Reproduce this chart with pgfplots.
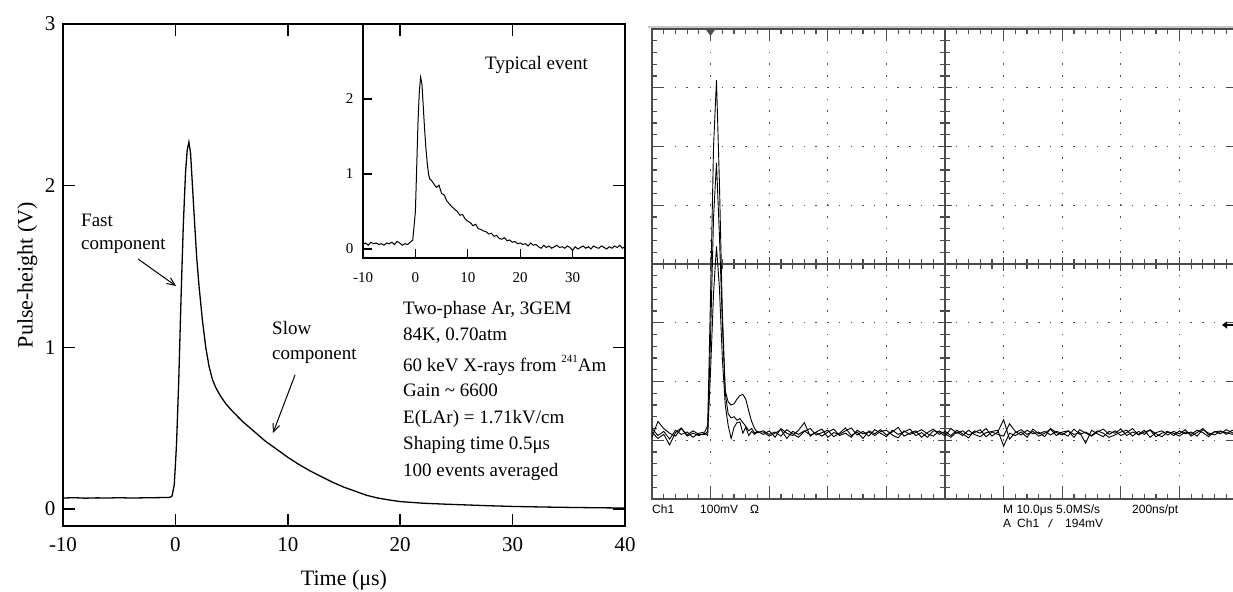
\documentclass[border=0pt]{standalone}
\usepackage{fontspec}
\setmainfont{Liberation Serif}
\newfontfamily\scopefont{Liberation Sans}
\usepackage{pgfplots}
\pgfplotsset{compat=1.18}
\usepackage{pgfplotstable}
\usetikzlibrary{arrows.meta}
\definecolor{scopegray}{gray}{0.3}

\pgfplotstableread{
t v
-10 0.068
-9 0.070
-8 0.067
-7 0.069
-6 0.068
-5 0.070
-4 0.068
-3 0.069
-2 0.070
-1 0.071
-0.5 0.072
-0.3 0.08
-0.1 0.15
0.1 0.40
0.3 0.80
0.5 1.30
0.7 1.75
0.9 2.08
1.05 2.22
1.2 2.27
1.35 2.20
1.5 2.02
1.7 1.78
1.9 1.55
2.1 1.38
2.4 1.17
2.7 1.00
3.0 0.88
3.3 0.80
3.6 0.75
4.0 0.70
4.5 0.65
5 0.61
6 0.54
7 0.48
8 0.42
9 0.37
10 0.32
11 0.275
12 0.235
13 0.20
14 0.165
15 0.135
16 0.11
17 0.085
18 0.068
19 0.056
20 0.046
22 0.036
24 0.030
26 0.025
28 0.020
30 0.016
33 0.012
36 0.009
40 0.006
}\mainavg

\pgfplotstableread{
t v
-10 0.06
-9.5 0.08
-9 0.05
-8.5 0.09
-8 0.07
-7.5 0.08
-7 0.06
-6.5 0.07
-6 0.05
-5.5 0.08
-5 0.07
-4.5 0.09
-4 0.06
-3.5 0.10
-3 0.08
-2.5 0.05
-2 0.07
-1.5 0.06
-1 0.09
-0.5 0.12
0 0.5
0.25 1.1
0.5 1.7
0.75 2.1
1.0 2.29
1.25 2.2
1.5 1.9
1.75 1.6
2.0 1.35
2.25 1.15
2.5 1.0
2.75 0.93
3 0.92
3.5 0.87
4 0.82
4.5 0.85
5 0.74
5.5 0.72
6 0.64
6.5 0.60
7 0.56
7.5 0.53
8 0.50
8.5 0.45
9 0.46
9.5 0.40
10 0.37
10.5 0.35
11 0.31
11.5 0.33
12 0.27
12.5 0.26
13 0.24
13.5 0.23
14 0.20
14.5 0.21
15 0.17
15.5 0.18
16 0.14
16.5 0.13
17 0.15
17.5 0.11
18 0.12
18.5 0.09
19 0.10
19.5 0.07
20 0.08
20.5 0.06
21 0.07
21.5 0.04
22 0.08
22.5 0.05
23 0.06
23.5 0.03
24 0.01
24.5 0.05
25 0.02
25.5 0.04
26 0.01
26.5 0.03
27 0.05
27.5 0.02
28 0.03
28.5 0.01
29 0.04
29.5 0.02
30 -0.02
30.5 0.03
31 0.00
31.5 0.02
32 0.04
32.5 0.01
33 0.03
33.5 0.00
34 0.04
34.5 0.02
35 0.01
35.5 0.04
36 0.02
36.5 0.00
37 0.03
37.5 0.01
38 0.04
38.5 0.02
39 0.05
39.5 0.01
40 0.03
}\typical

\pgfplotstableread{
x a b c
-5.0 -2.80 -2.95 -2.86
-4.9 -2.92 -2.68 -2.97
-4.8 -2.85 -2.80 -2.90
-4.7 -2.98 -2.88 -3.08
-4.6 -2.83 -2.93 -2.87
-4.5 -2.90 -2.80 -2.79
-4.4 -2.86 -2.91 -2.93
-4.3 -2.95 -2.84 -2.88
-4.2 -2.88 -2.90 -2.92
-4.10 -2.86 -2.90 -2.88
-4.05 -2.75 -2.85 -2.92
-4.00 -0.50 -1.20 -1.80
-3.95 2.00 0.80 -0.50
-3.90 3.13 1.72 0.30
-3.85 1.40 0.50 -0.40
-3.80 -0.80 -1.00 -1.60
-3.75 -2.16 -2.20 -2.40
-3.70 -2.35 -2.55 -2.75
-3.65 -2.40 -2.62 -2.97
-3.60 -2.38 -2.60 -2.78
-3.55 -2.30 -2.66 -2.70
-3.50 -2.24 -2.63 -2.69
-3.45 -2.22 -2.70 -2.88
-3.40 -2.30 -2.76 -2.78
-3.35 -2.50 -2.84 -2.92
-3.30 -2.68 -2.80 -2.85
-3.25 -2.80 -2.88 -2.90
-3.20 -2.87 -2.85 -2.86
-3.1 -2.84 -2.90 -2.86
-3.0 -2.90 -2.84 -2.93
-2.9 -2.86 -2.95 -2.88
-2.8 -2.93 -2.80 -2.82
-2.7 -2.82 -2.88 -2.97
-2.6 -2.89 -2.92 -2.85
-2.5 -2.95 -2.83 -2.90
-2.4 -2.85 -2.70 -2.84
-2.3 -2.80 -2.93 -2.91
-2.2 -2.91 -2.86 -2.87
-2.1 -2.87 -2.81 -2.93
-2.0 -2.83 -2.95 -2.86
-1.9 -2.94 -2.87 -2.81
-1.8 -2.88 -2.90 -2.92
-1.7 -2.79 -2.84 -2.88
-1.6 -2.92 -2.79 -2.95
-1.5 -2.86 -2.91 -2.83
-1.4 -2.97 -2.85 -2.89
-1.3 -2.84 -2.93 -2.86
-1.2 -2.89 -2.82 -2.92
-1.1 -2.82 -2.88 -2.85
-1.0 -2.91 -2.94 -2.83
-0.9 -2.86 -2.83 -2.91
-0.8 -2.78 -2.90 -2.96
-0.7 -2.93 -2.86 -2.84
-0.6 -2.88 -2.81 -2.90
-0.5 -2.84 -2.92 -2.87
-0.4 -2.95 -2.87 -2.82
-0.3 -2.87 -2.95 -2.89
-0.2 -2.81 -2.84 -2.93
-0.1 -2.90 -2.86 -2.84
0.0 -2.85 -2.93 -2.89
0.1 -2.92 -2.80 -2.95
0.2 -2.83 -2.88 -2.86
0.3 -2.89 -2.84 -2.92
0.4 -2.96 -2.91 -2.83
0.5 -2.84 -2.87 -2.90
0.6 -2.88 -2.82 -2.94
0.7 -2.80 -2.94 -2.87
0.8 -2.93 -2.86 -2.85
0.9 -2.86 -2.90 -2.83
1.0 -2.65 -2.93 -3.10
1.1 -2.98 -2.72 -2.88
1.2 -2.87 -2.85 -2.92
1.3 -2.82 -2.91 -2.86
1.4 -2.90 -2.83 -2.95
1.5 -2.85 -2.89 -2.81
1.6 -2.93 -2.86 -2.89
1.7 -2.88 -2.94 -2.85
1.8 -2.81 -2.80 -2.91
1.9 -2.92 -2.87 -2.85
2.0 -2.86 -2.91 -2.88
2.1 -2.84 -2.84 -2.93
2.2 -2.90 -2.95 -2.81
2.3 -2.87 -2.82 -2.90
2.4 -3.05 -2.88 -2.86
2.5 -2.83 -2.93 -2.92
2.6 -2.89 -2.86 -2.84
2.7 -2.94 -2.81 -2.88
2.8 -2.85 -2.90 -2.95
2.9 -2.88 -2.84 -2.91
3.0 -2.81 -2.92 -2.86
3.1 -2.92 -2.87 -2.83
3.2 -2.86 -2.80 -2.93
3.3 -2.90 -2.91 -2.85
3.4 -2.83 -2.86 -2.90
3.5 -2.95 -2.83 -2.82
3.6 -2.87 -2.94 -2.89
3.7 -2.84 -2.88 -2.94
3.8 -2.91 -2.85 -2.86
3.9 -2.85 -2.92 -2.88
4.0 -2.89 -2.84 -2.93
4.1 -2.82 -2.89 -2.86
4.2 -2.93 -2.86 -2.90
4.3 -2.87 -2.93 -2.83
4.4 -2.80 -2.82 -2.87
4.5 -2.91 -2.88 -2.94
4.6 -2.86 -2.91 -2.85
4.7 -2.84 -2.85 -2.89
4.8 -2.90 -2.87 -2.82
4.9 -2.83 -2.90 -2.87
5.0 -2.88 -2.84 -2.91
}\scopedata

\begin{document}
\begin{tikzpicture}[x=1bp,y=1bp]
\path[use as bounding box] (0,0) rectangle (1233,592);
\begin{scope}
\clip (0,0) rectangle (1233,592);

% ---------------- main averaged pulse ----------------
\begin{axis}[
  at={(63bp,66bp)}, anchor=south west,
  scale only axis, width=562bp, height=502bp,
  xmin=-10, xmax=40, ymin=-0.105, ymax=3,
  xtick={-10,0,...,40}, ytick={0,1,2,3},
  tick align=inside, major tick length=12bp,
  axis line style={line width=1.5bp},
  tick style={line width=1.5bp, black},
  tick label style={font=\fontsize{21bp}{24bp}\selectfont},
  /pgf/number format/assume math mode=true,
  xticklabel style={yshift=-8bp},
  yticklabel style={xshift=-4bp},
  xlabel={Time (μs)}, ylabel={Pulse-height (V)},
  label style={font=\fontsize{22bp}{26bp}\selectfont},
  xlabel style={at={(axis description cs:0.5,-0.1076)}, anchor=center},
  ylabel style={at={(axis description cs:-0.0632,0.5)}, anchor=center},
]
\addplot[black, line width=1.3bp] table[x=t,y=v]{\mainavg};
\end{axis}

% ---------------- inset: typical event ----------------
\begin{axis}[
  at={(363bp,334bp)}, anchor=south west,
  scale only axis, width=262bp, height=234bp,
  xmin=-10, xmax=40, ymin=-0.12, ymax=3,
  xtick={-10,0,...,30}, ytick={0,1,2},
  xtick pos=left, ytick pos=left,
  tick align=inside, major tick length=9bp,
  axis line style={line width=1.3bp},
  tick style={line width=1.3bp, black},
  tick label style={font=\fontsize{15bp}{18bp}\selectfont},
  /pgf/number format/assume math mode=true,
  xticklabel style={yshift=-11bp},
  yticklabel style={xshift=-6bp},
]
\addplot[black, line width=1bp] table[x=t,y=v]{\typical};
\end{axis}

% ---------------- oscilloscope: frame and graticule ----------------
\begin{axis}[
  at={(652bp,93bp)}, anchor=south west,
  scale only axis, width=586bp, height=470bp,
  xmin=-5, xmax=5, ymin=-4, ymax=4,
  xtick={-5,...,5}, ytick={-4,...,4},
  minor x tick num=4, minor y tick num=4,
  xticklabels={}, yticklabels={},
  tick align=inside, major tick length=12bp, minor tick length=5bp,
  axis line style={line width=1.4bp, scopegray},
  tick style={line width=1.2bp, scopegray},
  grid=major,
  x grid style={dash pattern=on 1.5bp off 10.25bp, dash phase=0.75bp, line width=1.3bp, scopegray},
  y grid style={dash pattern=on 1.5bp off 10.22bp, dash phase=0.75bp, line width=1.3bp, scopegray},
]
\end{axis}

% ---------------- oscilloscope: crosshair and traces ----------------
\begin{axis}[
  at={(652bp,93bp)}, anchor=south west,
  scale only axis, width=586bp, height=470bp,
  xmin=-5, xmax=5, ymin=-4, ymax=4,
  axis lines=middle,
  axis line style={-, line width=1.4bp, scopegray},
  xtick={-5,...,5}, ytick={-4,...,4},
  minor x tick num=4, minor y tick num=4,
  xticklabels={}, yticklabels={},
  tick align=center, major tick length=14bp, minor tick length=10bp,
  tick style={line width=1.2bp, scopegray},
]
\addplot[black, line width=0.9bp] table[x=x,y=a]{\scopedata};
\addplot[black, line width=0.9bp] table[x=x,y=b]{\scopedata};
\addplot[black, line width=0.9bp] table[x=x,y=c]{\scopedata};
\end{axis}
\end{scope}

% scope decorations
\fill[gray!45] (648,563.5) rectangle (1233,566);
\fill[scopegray] (705.5,563) -- (715.5,563) -- (710.5,556) -- cycle;
\draw[line width=1.6bp, black, -{Triangle[length=5bp,width=7bp]}] (1233,267) -- (1222,267);

\begin{scope}[every node/.style={anchor=base west, inner sep=0pt, font=\scopefont\fontsize{12bp}{14bp}\selectfont}]
\node at (652,78) {Ch1};
\node at (700,78) {100mV};
\node at (750,78) {Ω};
\node at (1003,78) {M 10.0μs 5.0MS/s};
\node at (1132,78) {200ns/pt};
\node at (1003,64) {A};
\node at (1017,64) {Ch1};
\node at (1048,64) {\rotatebox{-10}{/}};
\node at (1065,64) {194mV};
\end{scope}

% left panel annotations
\begin{scope}[every node/.style={anchor=base west, inner sep=0pt, font=\fontsize{19bp}{22bp}\selectfont}]
\node at (81,365) {Fast};
\node at (81,342) {component};
\node at (272,257) {Slow};
\node at (272,232) {component};
\node at (485,522) {Typical event};
\node at (403,277) {Two-phase Ar, 3GEM};
\node at (403,251) {84K, 0.70atm};
\node at (403,220) {60 keV X-rays from \raisebox{9bp}{\fontsize{11bp}{11bp}\selectfont 241}Am};
\node at (403,195) {Gain \textasciitilde{} 6600};
\node at (403,168) {E(LAr) = 1.71kV/cm};
\node at (403,142) {Shaping time 0.5μs};
\node at (403,115) {100 events averaged};
\end{scope}
\draw[line width=1bp, -{Straight Barb[length=8bp,width=7bp]}] (138,333) -- (176,306);
\draw[line width=1bp, -{Straight Barb[length=8bp,width=7bp]}] (295,217) -- (273,159);
\end{tikzpicture}
\end{document}
